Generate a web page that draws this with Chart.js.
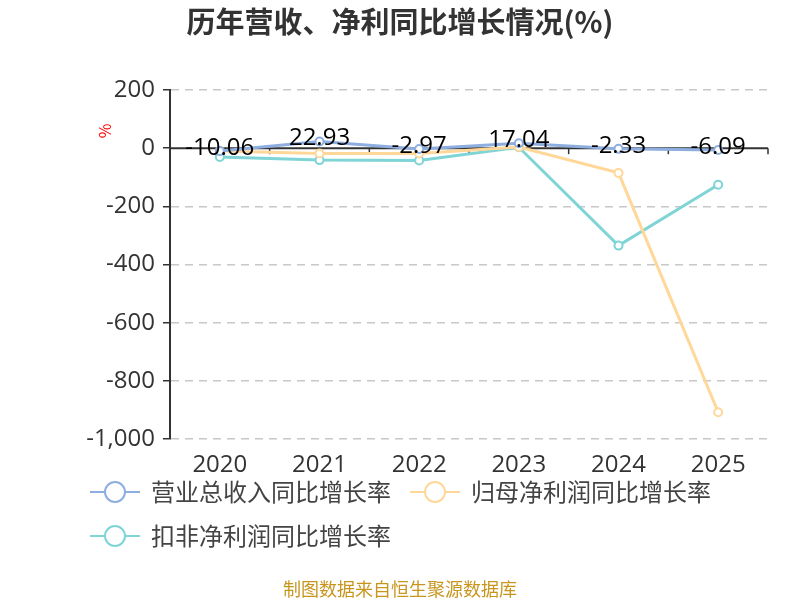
<!DOCTYPE html>
<html><head><meta charset="utf-8">
<script src="https://cdn.jsdelivr.net/npm/chart.js@4/dist/chart.umd.min.js"></script>
<style>html,body{margin:0;padding:0;background:#fff;}#wrap{width:800px;height:600px;position:relative;}</style>
</head><body><div id="wrap"><canvas id="c" width="800" height="600"></canvas></div>
<script>
const categories = ['2020','2021','2022','2023','2024','2025'];
const revenueGrowth = [-10.06, 22.93, -2.97, 17.04, -2.33, -6.09];
const netProfitGrowth = [-10, -18, -18, 4, -85, -908];
const deductedProfitGrowth = [-30, -41, -42, 3, -335, -126];
const seriesNames = ['营业总收入同比增长率', '归母净利润同比增长率', '扣非净利润同比增长率'];
const seriesColors = ['#8EAEE0', '#FFD899', '#7FD4D6'];
const yTicks = [200, 0, -200, -400, -600, -800, -1000];
const titleText = '历年营收、净利同比增长情况(%)';
const sourceText = '制图数据来自恒生聚源数据库';
const FONT = '"Noto Sans CJK SC", "Noto Sans", sans-serif';
const NUMFONT = '"Open Sans", "Noto Sans CJK SC", sans-serif';

const decor = {
  id: 'decor',
  beforeDatasetsDraw(chart) {
    const ctx = chart.ctx, a = chart.chartArea;
    const y = chart.scales.y;
    const y0 = y.getPixelForValue(0);
    ctx.save();
    ctx.strokeStyle = '#333';
    ctx.lineWidth = 2;
    ctx.beginPath(); ctx.moveTo(a.left, y0); ctx.lineTo(a.right, y0); ctx.stroke();
    ctx.lineWidth = 1.5;
    const n = categories.length;
    for (let i = 1; i <= n; i++) {
      const px = a.left + (a.right - a.left) * i / n;
      ctx.beginPath(); ctx.moveTo(px, y0); ctx.lineTo(px, y0 + 6); ctx.stroke();
    }
    ctx.restore();
  },
  afterDraw(chart) {
    const ctx = chart.ctx;
    ctx.save();
    ctx.fillStyle = '#333';
    ctx.font = 'bold 29px ' + FONT;
    ctx.textAlign = 'center'; ctx.textBaseline = 'middle';
    ctx.fillText(titleText, 400, 22);
    ctx.save();
    ctx.translate(105, 131);
    ctx.rotate(-Math.PI / 2);
    ctx.fillStyle = '#f00';
    ctx.font = '16px ' + FONT;
    ctx.fillText('%', 0, 0);
    ctx.restore();
    const meta = chart.getDatasetMeta(0);
    ctx.fillStyle = '#000';
    ctx.font = '24px ' + NUMFONT;
    meta.data.forEach((pt, i) => {
      ctx.fillText(revenueGrowth[i].toFixed(2), pt.x, pt.y - 3);
    });
    const items = [[90, 492, 0], [410, 492, 1], [90, 536, 2]];
    ctx.font = '24px ' + FONT;
    ctx.textAlign = 'left';
    items.forEach(([lx, ly, k]) => {
      ctx.strokeStyle = seriesColors[k];
      ctx.lineWidth = 2;
      ctx.beginPath(); ctx.moveTo(lx, ly); ctx.lineTo(lx + 50, ly); ctx.stroke();
      ctx.beginPath(); ctx.arc(lx + 25, ly, 10, 0, Math.PI * 2);
      ctx.fillStyle = '#fff'; ctx.fill(); ctx.stroke();
      ctx.fillStyle = '#444';
      ctx.fillText(seriesNames[k], lx + 61, ly);
    });
    ctx.textAlign = 'center';
    ctx.fillStyle = '#C8961E';
    ctx.font = '18px ' + FONT;
    ctx.fillText(sourceText, 400, 589);
    ctx.restore();
  }
};

const mk = (data, k) => ({
  label: seriesNames[k], data,
  borderColor: seriesColors[k], backgroundColor: '#fff',
  borderWidth: 3, pointRadius: 4, pointBorderWidth: 2,
  pointBackgroundColor: '#fff', pointBorderColor: seriesColors[k],
  tension: 0
});

new Chart(document.getElementById('c'), {
  type: 'line',
  data: {
    labels: categories,
    datasets: [mk(revenueGrowth, 0), mk(netProfitGrowth, 1), mk(deductedProfitGrowth, 2)]
  },
  options: {
    responsive: false, animation: false,
    layout: { padding: { left: 0, right: 32, top: 90, bottom: 121 } },
    plugins: { legend: { display: false }, title: { display: false }, tooltip: { enabled: false } },
    scales: {
      x: {
        offset: true,
        grid: { display: false, offset: true },
        border: { display: false },
        ticks: { color: '#333', font: { size: 24, family: NUMFONT }, padding: 4, maxRotation: 0 },
        afterFit(s) { s.height = 40; }
      },
      y: {
        min: -1000, max: 200,
        afterBuildTicks(s) { s.ticks = yTicks.map(v => ({ value: v })); },
        grid: {
          color: ctx => ctx.tick && ctx.tick.value === 0 ? 'rgba(0,0,0,0)' : '#c8c8c8',
          lineWidth: 1.5, drawTicks: true, tickLength: 7, tickColor: '#333',
          tickBorderDash: []
        },
        border: { display: true, color: '#333', width: 2, dash: [8, 6] },
        ticks: {
          color: '#333', font: { size: 24, family: NUMFONT }, padding: 8,
          callback: v => v.toLocaleString('en-US')
        },
        afterFit(s) { s.width = 170; }
      }
    }
  },
  plugins: [decor]
});
</script></body></html>
